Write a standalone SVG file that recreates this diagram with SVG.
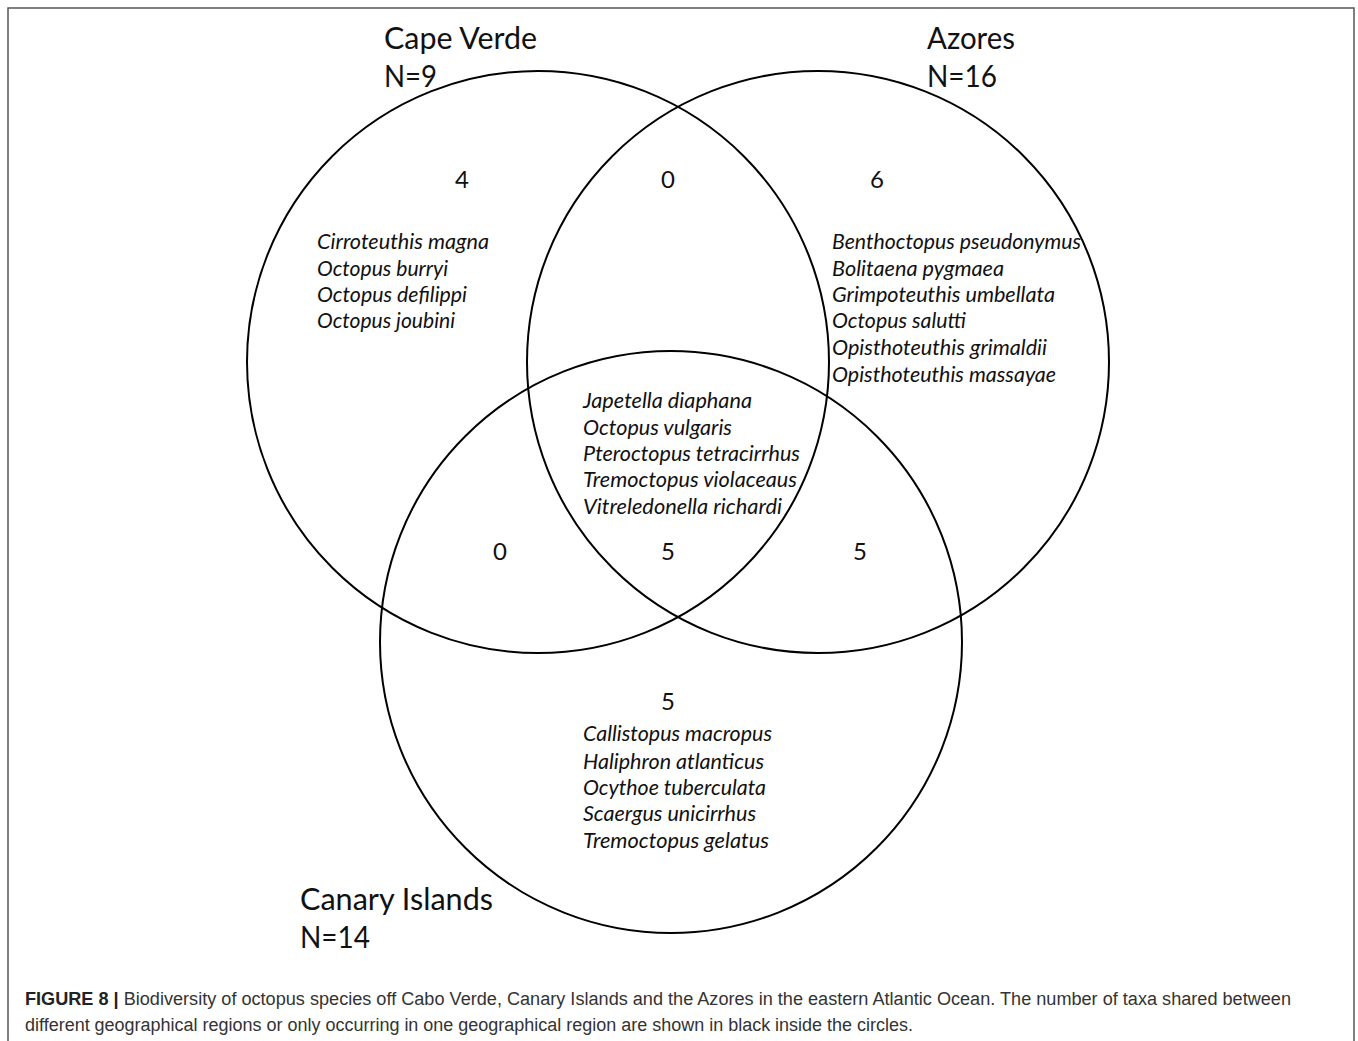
<svg xmlns="http://www.w3.org/2000/svg" width="1358" height="1041" viewBox="0 0 1358 1041">
<style>
.c{fill:none;stroke:#000;stroke-width:2}
.t{font-family:Lato,"Open Sans",sans-serif;font-size:31px;fill:#111}
.n{font-family:Lato,"Open Sans",sans-serif;font-size:24px;fill:#111;text-anchor:middle}
.s{font-family:Lato,"Open Sans",sans-serif;font-size:21px;font-style:italic;fill:#111}
.cap{font-family:"Liberation Sans",Arial,sans-serif;font-size:18px;fill:#333}
</style>
<rect x="0" y="0" width="1358" height="1041" fill="#fff"/>
<rect x="8" y="8" width="1346" height="1040" fill="none" stroke="#555" stroke-width="1.5"/>
<g id="cape-verde">
<circle class="c" cx="538" cy="362" r="291"/>
<text class="t" x="384" y="49" textLength="153" lengthAdjust="spacingAndGlyphs">Cape Verde</text>
<text class="t" x="384" y="87" textLength="53" lengthAdjust="spacingAndGlyphs">N=9</text>
<text class="n" x="462" y="188">4</text>
<text class="s" x="317" y="249" textLength="172" lengthAdjust="spacingAndGlyphs">Cirroteuthis magna</text>
<text class="s" x="317" y="276" textLength="131" lengthAdjust="spacingAndGlyphs">Octopus burryi</text>
<text class="s" x="317" y="302" textLength="150" lengthAdjust="spacingAndGlyphs">Octopus defilippi</text>
<text class="s" x="317" y="328" textLength="138" lengthAdjust="spacingAndGlyphs">Octopus joubini</text>
</g>
<g id="azores">
<circle class="c" cx="818" cy="362" r="291"/>
<text class="t" x="927" y="49" textLength="88" lengthAdjust="spacingAndGlyphs">Azores</text>
<text class="t" x="927" y="87" textLength="70" lengthAdjust="spacingAndGlyphs">N=16</text>
<text class="n" x="877" y="188">6</text>
<text class="s" x="832" y="249" textLength="249" lengthAdjust="spacingAndGlyphs">Benthoctopus pseudonymus</text>
<text class="s" x="832" y="276" textLength="172" lengthAdjust="spacingAndGlyphs">Bolitaena pygmaea</text>
<text class="s" x="832" y="302" textLength="223" lengthAdjust="spacingAndGlyphs">Grimpoteuthis umbellata</text>
<text class="s" x="832" y="328" textLength="134" lengthAdjust="spacingAndGlyphs">Octopus salutti</text>
<text class="s" x="832" y="355" textLength="215" lengthAdjust="spacingAndGlyphs">Opisthoteuthis grimaldii</text>
<text class="s" x="832" y="382" textLength="224" lengthAdjust="spacingAndGlyphs">Opisthoteuthis massayae</text>
</g>
<g id="canary-islands">
<circle class="c" cx="671" cy="642" r="291"/>
<text class="t" x="300" y="910" textLength="193" lengthAdjust="spacingAndGlyphs">Canary Islands</text>
<text class="t" x="300" y="948" textLength="70" lengthAdjust="spacingAndGlyphs">N=14</text>
<text class="n" x="668" y="710">5</text>
<text class="s" x="583" y="741" textLength="189" lengthAdjust="spacingAndGlyphs">Callistopus macropus</text>
<text class="s" x="583" y="769" textLength="181" lengthAdjust="spacingAndGlyphs">Haliphron atlanticus</text>
<text class="s" x="583" y="795" textLength="183" lengthAdjust="spacingAndGlyphs">Ocythoe tuberculata</text>
<text class="s" x="583" y="821" textLength="173" lengthAdjust="spacingAndGlyphs">Scaergus unicirrhus</text>
<text class="s" x="583" y="848" textLength="186" lengthAdjust="spacingAndGlyphs">Tremoctopus gelatus</text>
</g>
<g id="overlap-cv-az">
<text class="n" x="668" y="188">0</text>
</g>
<g id="overlap-cv-ci">
<text class="n" x="500" y="560">0</text>
</g>
<g id="overlap-az-ci">
<text class="n" x="860" y="560">5</text>
</g>
<g id="overlap-all">
<text class="n" x="668" y="560">5</text>
<text class="s" x="583" y="408" textLength="169" lengthAdjust="spacingAndGlyphs">Japetella diaphana</text>
<text class="s" x="583" y="435" textLength="149" lengthAdjust="spacingAndGlyphs">Octopus vulgaris</text>
<text class="s" x="583" y="461" textLength="217" lengthAdjust="spacingAndGlyphs">Pteroctopus tetracirrhus</text>
<text class="s" x="583" y="487" textLength="214" lengthAdjust="spacingAndGlyphs">Tremoctopus violaceaus</text>
<text class="s" x="583" y="514" textLength="199" lengthAdjust="spacingAndGlyphs">Vitreledonella richardi</text>
</g>
<g id="connectors"></g>
<g id="caption">
<text class="cap" x="25" y="1005" textLength="1266" lengthAdjust="spacingAndGlyphs"><tspan font-weight="bold" fill="#222">FIGURE 8 |</tspan> Biodiversity of octopus species off Cabo Verde, Canary Islands and the Azores in the eastern Atlantic Ocean. The number of taxa shared between</text>
<text class="cap" x="25" y="1031" textLength="888" lengthAdjust="spacingAndGlyphs">different geographical regions or only occurring in one geographical region are shown in black inside the circles.</text>
</g>
</svg>
